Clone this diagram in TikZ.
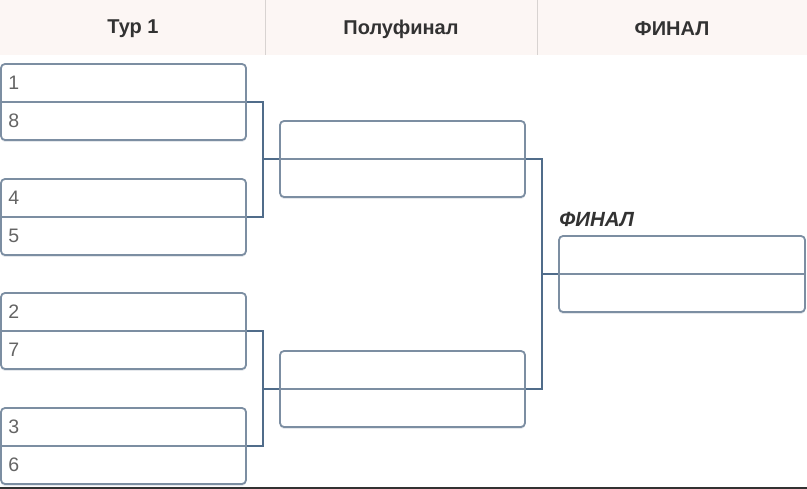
\documentclass[tikz,border=0pt]{standalone}
\usepackage{fontspec}
\setmainfont{Liberation Sans}
\usepackage{tikz}
\usetikzlibrary{positioning, calc, shadows}
\definecolor{headerbg}{RGB}{252, 246, 244}
\definecolor{headerline}{RGB}{216, 211, 209}
\definecolor{boxline}{RGB}{124, 142, 162}
\definecolor{bracketline}{RGB}{80, 108, 138}
\definecolor{seedgray}{RGB}{100, 100, 100}
\definecolor{titlegray}{RGB}{50, 50, 50}

\begin{document}
\begin{tikzpicture}[x=1pt, y=-1pt,
    match/.style={draw=boxline, line width=1.8pt, rounded corners=4pt, fill=white,
        minimum width=245pt, minimum height=76pt, inner sep=0pt,
        drop shadow={shadow xshift=0pt, shadow yshift=-2pt, fill=boxline, opacity=0.2}},
    divider/.style={draw=boxline, line width=1.8pt},
    seed/.style={anchor=west, inner sep=0pt, text=seedgray, font=\fontsize{19.5}{20}\selectfont},
    bracket/.style={draw=bracketline, line width=2.6pt},
    colhead/.style={font=\bfseries\fontsize{20}{21}\selectfont, text=titlegray}]
    \useasboundingbox (0,0) rectangle (807,489);

    % Header
    \fill[headerbg] (0,0) rectangle (807,55);
    \draw[headerline, line width=1pt] (265,0) -- (265,55);
    \draw[headerline, line width=1pt] (537,0) -- (537,55);
    \node[colhead] (h1) at (133,29) {Тур 1};
    \node[colhead] (h2) at (401,29) {Полуфинал};
    \node[colhead] (h3) at (672,29) {ФИНАЛ};

    % Round 1
    \foreach \m/\yc/\seedA/\seedB in {r1/102/1/8, r2/217/4/5, r3/331/2/7, r4/446/3/6} {
        \node[match] (\m) at (123.5,\yc) {};
        \draw[divider] (\m.west) -- (\m.east);
        \node[seed] (\m-a) at ($(\m.west)+(8,-19)$) {\seedA};
        \node[seed] (\m-b) at ($(\m.west)+(8,19)$) {\seedB};
    }

    % Semifinals
    \foreach \m/\yc in {s1/159, s2/389} {
        \node[match] (\m) at (402.5,\yc) {};
        \draw[divider] (\m.west) -- (\m.east);
    }

    % Final
    \node[match, minimum width=246pt] (f) at (682,274) {};
    \draw[divider] (f.west) -- (f.east);
    \node[font=\bfseries\itshape\fontsize{20.5}{21}\selectfont, text=titlegray,
        anchor=south west, inner sep=0pt] (flabel) at ($(f.north west)+(1,-8)$) {ФИНАЛ};

    % Brackets
    \path (r1.east) ++(16,0) coordinate (j1x);
    \path (r3.east) ++(16,0) coordinate (j2x);
    \path (s1.east) ++(16,0) coordinate (j3x);
    \coordinate (j1) at (j1x |- s1.west);
    \coordinate (j2) at (j2x |- s2.west);
    \coordinate (j3) at (j3x |- f.west);
    \draw[bracket] (r1.east) -| (j1) |- (r2.east);
    \draw[bracket] (j1) -- (s1.west);
    \draw[bracket] (r3.east) -| (j2) |- (r4.east);
    \draw[bracket] (j2) -- (s2.west);
    \draw[bracket] (s1.east) -| (j3) |- (s2.east);
    \draw[bracket] (j3) -- (f.west);

    % Bottom edge
    \draw[titlegray, line width=1.5pt] (0,488) -- (807,488);
\end{tikzpicture}
\end{document}
